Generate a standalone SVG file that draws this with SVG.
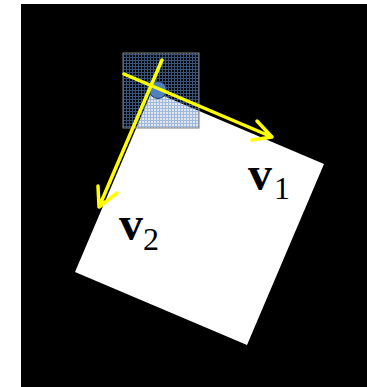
<svg xmlns="http://www.w3.org/2000/svg" width="367" height="387" viewBox="0 0 367 387">
<defs>
<pattern id="grid" width="3" height="3" patternUnits="userSpaceOnUse">
<rect x="0" y="0" width="3" height="1" fill="#5b8bcb" fill-opacity="0.6"/>
<rect x="0" y="1" width="1" height="2" fill="#5b8bcb" fill-opacity="0.6"/>
<rect x="1" y="1" width="2" height="2" fill="#1c3050" fill-opacity="0.12"/>
</pattern>
<style>
.arrow{fill:none;stroke:#ffff00;stroke-width:3.5;stroke-linecap:round;stroke-linejoin:round}
.v{font-family:"Liberation Serif",serif;font-weight:bold;font-size:48px;fill:#000}
.sub{font-family:"Liberation Serif",serif;font-size:32px;fill:#000}
</style>
</defs>
<rect x="0" y="0" width="367" height="387" fill="#ffffff"/>
<rect x="21" y="4" width="346" height="383" fill="#000000"/>
<g id="frame">
<polygon points="152,91 324,164 247,345 75,272" fill="#ffffff"/>
</g>
<g id="pixel">
<rect x="123" y="53" width="76" height="75" fill="url(#grid)" stroke="#7f7f7f" stroke-width="1"/>
<circle cx="158" cy="90" r="8.5" fill="#4f81bd" stroke="#1f3a60" stroke-width="1"/>
</g>
<g id="connectors">
<path class="arrow" d="M124,74 L272,137 M252,140 L272,137 L257,121"/>
<path class="arrow" d="M162,60 L99,207 M98,186 L99,207 L117,193"/>
</g>
<g id="label-v1">
<text x="248" y="190" class="v">v</text><text x="274" y="199" class="sub">1</text>
</g>
<g id="label-v2">
<text x="119" y="240" class="v">v</text><text x="143" y="250" class="sub">2</text>
</g>
</svg>
